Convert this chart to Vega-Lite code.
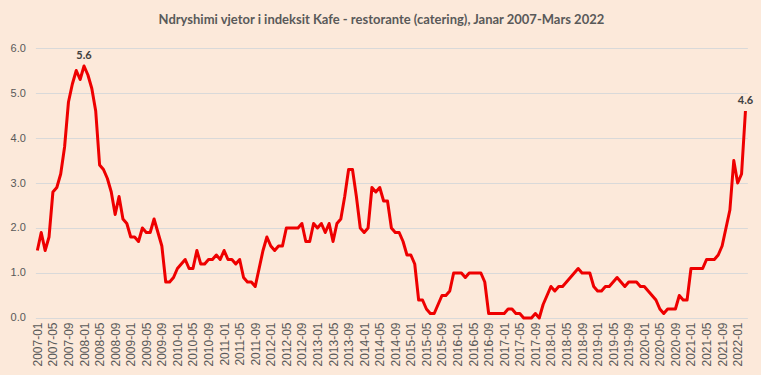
{
  "$schema": "https://vega.github.io/schema/vega-lite/v6.json",
  "width": 712,
  "height": 270,
  "autosize": {"type": "none"},
  "padding": {"left": 35.4, "top": 48, "right": 14, "bottom": 57},
  "background": "#FCE9DA",
  "title": {
    "text": "Ndryshimi vjetor i indeksit Kafe - restorante (catering), Janar 2007-Mars 2022",
    "font": "Lato",
    "fontSize": 13,
    "fontWeight": "bold",
    "color": "#595959",
    "anchor": "middle",
    "baseline": "alphabetic",
    "offset": 5,
    "dx": -10
  },
  "config": {
    "view": {"stroke": null},
    "font": "Liberation Sans"
  },
  "data": {
    "values": [
      {"m": "2007-01", "v": 1.5}, {"m": "2007-02", "v": 1.9}, {"m": "2007-03", "v": 1.5}, {"m": "2007-04", "v": 1.8},
      {"m": "2007-05", "v": 2.8}, {"m": "2007-06", "v": 2.9}, {"m": "2007-07", "v": 3.2}, {"m": "2007-08", "v": 3.8},
      {"m": "2007-09", "v": 4.8}, {"m": "2007-10", "v": 5.2}, {"m": "2007-11", "v": 5.5}, {"m": "2007-12", "v": 5.3},
      {"m": "2008-01", "v": 5.6}, {"m": "2008-02", "v": 5.4}, {"m": "2008-03", "v": 5.1}, {"m": "2008-04", "v": 4.6},
      {"m": "2008-05", "v": 3.4}, {"m": "2008-06", "v": 3.3}, {"m": "2008-07", "v": 3.1}, {"m": "2008-08", "v": 2.8},
      {"m": "2008-09", "v": 2.3}, {"m": "2008-10", "v": 2.7}, {"m": "2008-11", "v": 2.2}, {"m": "2008-12", "v": 2.1},
      {"m": "2009-01", "v": 1.8}, {"m": "2009-02", "v": 1.8}, {"m": "2009-03", "v": 1.7}, {"m": "2009-04", "v": 2.0},
      {"m": "2009-05", "v": 1.9}, {"m": "2009-06", "v": 1.9}, {"m": "2009-07", "v": 2.2}, {"m": "2009-08", "v": 1.9},
      {"m": "2009-09", "v": 1.6}, {"m": "2009-10", "v": 0.8}, {"m": "2009-11", "v": 0.8}, {"m": "2009-12", "v": 0.9},
      {"m": "2010-01", "v": 1.1}, {"m": "2010-02", "v": 1.2}, {"m": "2010-03", "v": 1.3}, {"m": "2010-04", "v": 1.1},
      {"m": "2010-05", "v": 1.1}, {"m": "2010-06", "v": 1.5}, {"m": "2010-07", "v": 1.2}, {"m": "2010-08", "v": 1.2},
      {"m": "2010-09", "v": 1.3}, {"m": "2010-10", "v": 1.3}, {"m": "2010-11", "v": 1.4}, {"m": "2010-12", "v": 1.3},
      {"m": "2011-01", "v": 1.5}, {"m": "2011-02", "v": 1.3}, {"m": "2011-03", "v": 1.3}, {"m": "2011-04", "v": 1.2},
      {"m": "2011-05", "v": 1.3}, {"m": "2011-06", "v": 0.9}, {"m": "2011-07", "v": 0.8}, {"m": "2011-08", "v": 0.8},
      {"m": "2011-09", "v": 0.7}, {"m": "2011-10", "v": 1.1}, {"m": "2011-11", "v": 1.5}, {"m": "2011-12", "v": 1.8},
      {"m": "2012-01", "v": 1.6}, {"m": "2012-02", "v": 1.5}, {"m": "2012-03", "v": 1.6}, {"m": "2012-04", "v": 1.6},
      {"m": "2012-05", "v": 2.0}, {"m": "2012-06", "v": 2.0}, {"m": "2012-07", "v": 2.0}, {"m": "2012-08", "v": 2.0},
      {"m": "2012-09", "v": 2.1}, {"m": "2012-10", "v": 1.7}, {"m": "2012-11", "v": 1.7}, {"m": "2012-12", "v": 2.1},
      {"m": "2013-01", "v": 2.0}, {"m": "2013-02", "v": 2.1}, {"m": "2013-03", "v": 1.9}, {"m": "2013-04", "v": 2.1},
      {"m": "2013-05", "v": 1.7}, {"m": "2013-06", "v": 2.1}, {"m": "2013-07", "v": 2.2}, {"m": "2013-08", "v": 2.7},
      {"m": "2013-09", "v": 3.3}, {"m": "2013-10", "v": 3.3}, {"m": "2013-11", "v": 2.7}, {"m": "2013-12", "v": 2.0},
      {"m": "2014-01", "v": 1.9}, {"m": "2014-02", "v": 2.0}, {"m": "2014-03", "v": 2.9}, {"m": "2014-04", "v": 2.8},
      {"m": "2014-05", "v": 2.9}, {"m": "2014-06", "v": 2.6}, {"m": "2014-07", "v": 2.6}, {"m": "2014-08", "v": 2.0},
      {"m": "2014-09", "v": 1.9}, {"m": "2014-10", "v": 1.9}, {"m": "2014-11", "v": 1.7}, {"m": "2014-12", "v": 1.4},
      {"m": "2015-01", "v": 1.4}, {"m": "2015-02", "v": 1.2}, {"m": "2015-03", "v": 0.4}, {"m": "2015-04", "v": 0.4},
      {"m": "2015-05", "v": 0.2}, {"m": "2015-06", "v": 0.1}, {"m": "2015-07", "v": 0.1}, {"m": "2015-08", "v": 0.3},
      {"m": "2015-09", "v": 0.5}, {"m": "2015-10", "v": 0.5}, {"m": "2015-11", "v": 0.6}, {"m": "2015-12", "v": 1.0},
      {"m": "2016-01", "v": 1.0}, {"m": "2016-02", "v": 1.0}, {"m": "2016-03", "v": 0.9}, {"m": "2016-04", "v": 1.0},
      {"m": "2016-05", "v": 1.0}, {"m": "2016-06", "v": 1.0}, {"m": "2016-07", "v": 1.0}, {"m": "2016-08", "v": 0.8},
      {"m": "2016-09", "v": 0.1}, {"m": "2016-10", "v": 0.1}, {"m": "2016-11", "v": 0.1}, {"m": "2016-12", "v": 0.1},
      {"m": "2017-01", "v": 0.1}, {"m": "2017-02", "v": 0.2}, {"m": "2017-03", "v": 0.2}, {"m": "2017-04", "v": 0.1},
      {"m": "2017-05", "v": 0.1}, {"m": "2017-06", "v": 0.0}, {"m": "2017-07", "v": 0.0}, {"m": "2017-08", "v": 0.0},
      {"m": "2017-09", "v": 0.1}, {"m": "2017-10", "v": 0.0}, {"m": "2017-11", "v": 0.3}, {"m": "2017-12", "v": 0.5},
      {"m": "2018-01", "v": 0.7}, {"m": "2018-02", "v": 0.6}, {"m": "2018-03", "v": 0.7}, {"m": "2018-04", "v": 0.7},
      {"m": "2018-05", "v": 0.8}, {"m": "2018-06", "v": 0.9}, {"m": "2018-07", "v": 1.0}, {"m": "2018-08", "v": 1.1},
      {"m": "2018-09", "v": 1.0}, {"m": "2018-10", "v": 1.0}, {"m": "2018-11", "v": 1.0}, {"m": "2018-12", "v": 0.7},
      {"m": "2019-01", "v": 0.6}, {"m": "2019-02", "v": 0.6}, {"m": "2019-03", "v": 0.7}, {"m": "2019-04", "v": 0.7},
      {"m": "2019-05", "v": 0.8}, {"m": "2019-06", "v": 0.9}, {"m": "2019-07", "v": 0.8}, {"m": "2019-08", "v": 0.7},
      {"m": "2019-09", "v": 0.8}, {"m": "2019-10", "v": 0.8}, {"m": "2019-11", "v": 0.8}, {"m": "2019-12", "v": 0.7},
      {"m": "2020-01", "v": 0.7}, {"m": "2020-02", "v": 0.6}, {"m": "2020-03", "v": 0.5}, {"m": "2020-04", "v": 0.4},
      {"m": "2020-05", "v": 0.2}, {"m": "2020-06", "v": 0.1}, {"m": "2020-07", "v": 0.2}, {"m": "2020-08", "v": 0.2},
      {"m": "2020-09", "v": 0.2}, {"m": "2020-10", "v": 0.5}, {"m": "2020-11", "v": 0.4}, {"m": "2020-12", "v": 0.4},
      {"m": "2021-01", "v": 1.1}, {"m": "2021-02", "v": 1.1}, {"m": "2021-03", "v": 1.1}, {"m": "2021-04", "v": 1.1},
      {"m": "2021-05", "v": 1.3}, {"m": "2021-06", "v": 1.3}, {"m": "2021-07", "v": 1.3}, {"m": "2021-08", "v": 1.4},
      {"m": "2021-09", "v": 1.6}, {"m": "2021-10", "v": 2.0}, {"m": "2021-11", "v": 2.4}, {"m": "2021-12", "v": 3.5},
      {"m": "2022-01", "v": 3.0}, {"m": "2022-02", "v": 3.2}, {"m": "2022-03", "v": 4.6}
    ]
  },
  "encoding": {
    "x": {
      "field": "m",
      "type": "ordinal",
      "sort": null,
      "scale": {"type": "point", "padding": 0.5},
      "axis": {
        "title": null,
        "values": ["2007-01","2007-05","2007-09","2008-01","2008-05","2008-09","2009-01","2009-05","2009-09","2010-01","2010-05","2010-09","2011-01","2011-05","2011-09","2012-01","2012-05","2012-09","2013-01","2013-05","2013-09","2014-01","2014-05","2014-09","2015-01","2015-05","2015-09","2016-01","2016-05","2016-09","2017-01","2017-05","2017-09","2018-01","2018-05","2018-09","2019-01","2019-05","2019-09","2020-01","2020-05","2020-09","2021-01","2021-05","2021-09","2022-01"],
        "labelAngle": 270,
        "labelAlign": "right",
        "labelBaseline": "middle",
        "labelPadding": 4,
        "labelFontSize": 12,
        "labelColor": "#595959",
        "labelFont": "Liberation Sans",
        "labelOverlap": false,
        "ticks": false,
        "domain": false,
        "grid": false
      }
    },
    "y": {
      "field": "v",
      "type": "quantitative",
      "scale": {"domain": [0, 6], "nice": false, "zero": true},
      "axis": {
        "title": null,
        "values": [0, 1, 2, 3, 4, 5, 6],
        "format": ".1f",
        "labelFontSize": 11,
        "labelColor": "#595959",
        "labelFont": "Liberation Sans",
        "labelPadding": 10,
        "ticks": false,
        "domain": false,
        "grid": true,
        "gridColor": "#D9D9D9",
        "gridWidth": 1
      }
    }
  },
  "layer": [
    {
      "mark": {"type": "line", "color": "#EE0000", "strokeWidth": 3, "strokeJoin": "round"}
    },
    {
      "transform": [{"filter": "datum.m == '2008-01' || datum.m == '2022-03'"}],
      "mark": {"type": "text", "dy": -10, "fontWeight": "bold", "fontSize": 11, "color": "#404040", "font": "Lato"},
      "encoding": {
        "text": {"field": "v", "type": "quantitative", "format": ".1f"}
      }
    }
  ]
}
